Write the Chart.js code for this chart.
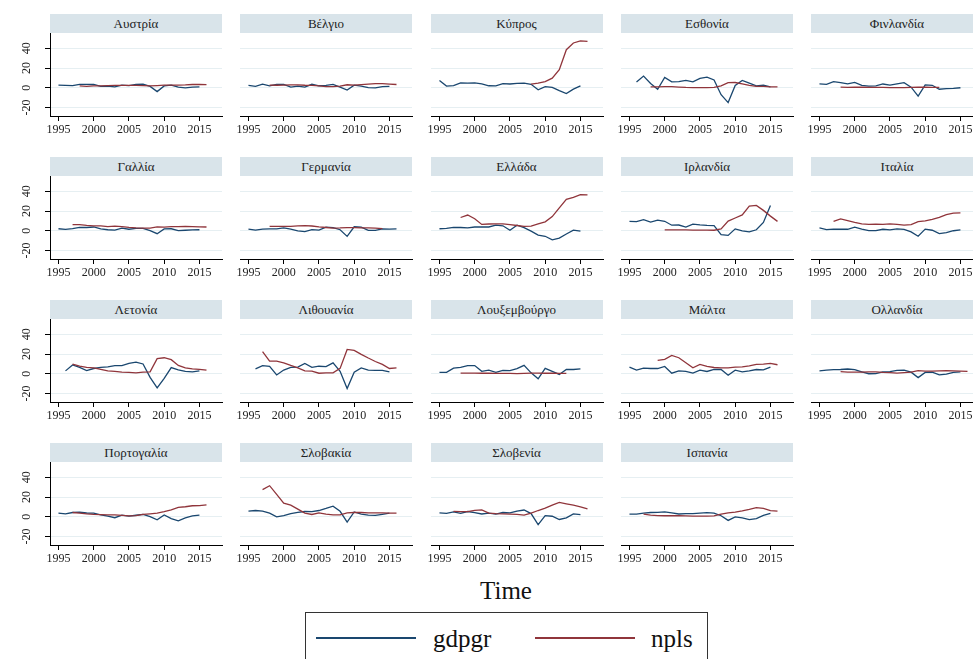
<!DOCTYPE html>
<html>
<head>
<meta charset="utf-8">
<script src="https://cdn.jsdelivr.net/npm/chart.js@4.4.0/dist/chart.umd.min.js"></script>
<style>
    body { margin: 0; width: 973px; height: 659px; overflow: hidden; background: #fff; position: relative; font-family: "Liberation Serif", "Times New Roman", serif; }
    .strip { position: absolute; height: 19px; background: #d9e4ea; text-align: center; font-size: 13px; line-height: 19px; color: #222; font-weight: normal; }
    .panel { position: absolute; }
    #xtitle { position: absolute; left: 0; width: 1012px; top: 578px; text-align: center; font-size: 25px; line-height: 25px; color: #111; }
    #legend { position: absolute; left: 305px; top: 612px; width: 403px; height: 60px; border: 1px solid #333; box-sizing: border-box; }
    .key { position: absolute; top: 24px; height: 2px; width: 100px; }
    .keytext { position: absolute; top: 13px; font-size: 25px; line-height: 25px; color: #111; }
</style>
</head>
<body>
<div id="xtitle">Time</div>
<div id="legend">
    <div class="key" style="left:10px;background:#1a476f"></div>
    <div class="keytext" style="left:127px">gdpgr</div>
    <div class="key" style="left:229px;background:#90353b"></div>
    <div class="keytext" style="left:345px">npls</div>
</div>
<script>
// years shared by every panel
const years = [1995, 1996, 1997, 1998, 1999, 2000, 2001, 2002, 2003, 2004, 2005,
    2006, 2007, 2008, 2009, 2010, 2011, 2012, 2013, 2014, 2015, 2016];

const countries = ['Αυστρία', 'Βέλγιο', 'Κύπρος', 'Εσθονία', 'Φινλανδία',
    'Γαλλία', 'Γερμανία', 'Ελλάδα', 'Ιρλανδία', 'Ιταλία',
    'Λετονία', 'Λιθουανία', 'Λουξεμβούργο', 'Μάλτα', 'Ολλανδία',
    'Πορτογαλία', 'Σλοβακία', 'Σλοβενία', 'Ισπανία'];

const xTicks = [1995, 2000, 2005, 2010, 2015];
const yTicks = [-20, 0, 20, 40];

// GDP growth, one row per country
const gdpgr = [
    [2.7, 2.4, 2.2, 3.6, 3.6, 3.4, 1.4, 1.7, 0.9, 2.7, 2.2, 3.5, 3.7, 1.5, -3.8, 1.9, 2.8, 0.7, 0.0, 0.7, 1.0, null],
    [2.4, 1.5, 3.7, 2.0, 3.5, 3.6, 0.8, 1.8, 0.8, 3.6, 2.1, 2.5, 3.4, 0.8, -2.3, 2.7, 1.8, 0.2, 0.0, 1.3, 1.4, null],
    [7.5, 1.8, 2.3, 5.0, 4.8, 5.0, 4.0, 2.1, 1.9, 4.2, 3.9, 4.5, 4.8, 3.6, -2.0, 1.3, 0.4, -2.9, -5.8, -1.3, 2.0, null],
    [null, 5.8, 11.9, 4.4, -1.4, 10.5, 6.1, 6.3, 7.5, 6.0, 9.5, 10.8, 8.0, -7.0, -14.9, 2.4, 7.5, 4.7, 2.0, 2.7, 1.0, null],
    [4.0, 3.6, 6.2, 5.3, 4.1, 5.6, 2.6, 1.7, 2.0, 3.9, 2.8, 4.1, 5.2, 0.7, -8.3, 3.0, 2.6, -1.4, -0.8, -0.6, 0.1, null],
    [2.1, 1.4, 2.3, 3.6, 3.4, 3.9, 2.0, 1.1, 0.8, 2.8, 1.6, 2.4, 2.4, 0.2, -2.9, 2.0, 2.1, 0.2, 0.6, 0.9, 1.1, null],
    [1.7, 0.8, 1.8, 2.0, 2.0, 3.0, 1.7, 0.0, -0.7, 1.2, 0.7, 3.7, 3.3, 1.1, -5.6, 4.1, 3.7, 0.5, 0.5, 1.9, 1.7, 1.9],
    [2.1, 2.4, 3.6, 3.4, 3.1, 3.9, 4.1, 3.9, 5.8, 5.1, 0.6, 5.7, 3.3, -0.3, -4.3, -5.5, -9.1, -7.3, -3.2, 0.7, -0.3, null],
    [9.6, 9.3, 11.4, 8.9, 10.9, 9.7, 5.7, 5.9, 3.8, 6.8, 6.0, 5.5, 5.2, -3.9, -4.6, 2.0, 0.0, -1.1, 1.1, 8.5, 25.6, null],
    [2.9, 1.3, 1.8, 1.6, 1.6, 3.7, 1.8, 0.2, 0.2, 1.6, 0.9, 2.0, 1.5, -1.0, -5.5, 1.7, 0.6, -2.8, -1.7, 0.1, 0.9, null],
    [null, 3.0, 9.0, 6.5, 3.3, 5.4, 6.5, 7.1, 8.4, 8.3, 10.7, 11.9, 10.0, -3.6, -14.3, -4.5, 6.3, 4.1, 2.4, 1.9, 3.0, null],
    [null, 5.1, 8.3, 7.5, -1.1, 3.8, 6.5, 6.8, 10.5, 6.6, 7.7, 7.4, 11.1, 2.6, -14.8, 1.6, 6.0, 3.8, 3.5, 3.5, 2.0, null],
    [1.4, 1.5, 5.8, 6.5, 8.4, 8.4, 2.5, 3.8, 1.6, 3.6, 3.2, 5.2, 8.6, 1.0, -5.0, 5.5, 2.5, -0.6, 4.4, 4.4, 5.0, null],
    [6.8, 3.7, 5.8, 5.4, 5.4, 7.5, 0.7, 3.0, 2.4, 0.7, 3.7, 2.4, 4.4, 4.4, -1.4, 3.7, 2.0, 2.9, 4.4, 4.0, 6.8, null],
    [3.1, 3.7, 4.3, 4.4, 4.9, 4.2, 2.1, 0.1, 0.3, 2.0, 2.2, 3.5, 3.7, 1.7, -3.8, 1.4, 1.7, -1.1, -0.2, 1.4, 2.0, null],
    [3.7, 3.0, 4.4, 4.8, 3.9, 3.8, 1.9, 0.8, -0.9, 1.8, 0.8, 1.6, 2.5, 0.2, -3.0, 1.9, -1.8, -4.0, -1.1, 0.9, 1.8, null],
    [5.8, 6.4, 5.8, 3.7, 0.0, 1.2, 3.3, 4.5, 5.4, 5.3, 6.4, 8.5, 10.8, 5.6, -5.4, 5.0, 2.8, 1.7, 1.5, 2.6, 3.8, null],
    [4.1, 3.6, 5.0, 3.6, 5.4, 4.2, 2.9, 3.8, 2.8, 4.4, 4.0, 5.7, 6.9, 3.3, -7.8, 1.2, 0.6, -2.7, -1.1, 3.0, 2.3, null],
    [2.8, 2.7, 3.7, 4.4, 4.5, 5.1, 4.0, 2.9, 3.2, 3.2, 3.7, 4.2, 3.8, 1.1, -3.6, 0.0, -1.0, -2.9, -1.7, 1.4, 3.4, null]
];

// non performing loans, one row per country
const npls = [
    [null, null, null, 2.0, 1.5, 2.0, 2.0, 2.3, 2.5, 2.5, 2.5, 2.5, 2.2, 1.9, 2.3, 2.8, 2.7, 2.8, 2.9, 3.4, 3.4, 3.3],
    [null, null, null, 2.8, 2.6, 2.8, 2.9, 3.0, 2.6, 2.4, 2.0, 1.3, 1.2, 1.7, 3.1, 2.8, 3.3, 3.7, 4.2, 4.2, 3.8, 3.4],
    [null, null, null, null, null, null, null, null, null, null, null, null, null, 3.7, 4.7, 6.4, 9.8, 18.3, 38.6, 45.4, 47.5, 47.0],
    [null, null, null, 1.0, 0.9, 1.2, 1.3, 0.8, 0.4, 0.3, 0.2, 0.2, 0.5, 1.9, 5.2, 5.4, 4.0, 2.6, 1.5, 1.4, 1.0, 0.9],
    [null, null, null, 0.7, 0.5, 0.6, 0.6, 0.5, 0.4, 0.4, 0.3, 0.3, 0.3, 0.4, 0.6, 0.6, 0.5, 0.5, null, null, null, null],
    [null, null, 6.3, 6.2, 5.5, 5.0, 5.0, 4.2, 4.8, 4.2, 3.5, 3.0, 2.7, 2.8, 4.0, 3.8, 4.3, 4.3, 4.5, 4.2, 4.0, 3.9],
    [null, null, null, 4.5, 4.5, 4.6, 4.6, 5.0, 5.2, 4.9, 4.0, 3.4, 2.7, 2.9, 3.3, 3.2, 3.0, 2.9, 2.7, 2.3, null, null],
    [null, null, null, 13.5, 16.0, 12.3, 6.5, 6.9, 7.0, 7.0, 6.3, 5.4, 4.6, 4.7, 7.0, 9.1, 14.4, 23.3, 31.9, 33.8, 36.6, 36.3],
    [null, null, null, null, null, 1.0, 1.0, 1.0, 0.9, 0.8, 0.7, 0.7, 0.6, 1.9, 9.8, 13.0, 16.1, 25.0, 25.7, 20.7, 14.9, 9.6],
    [null, null, 9.5, 12.0, 10.4, 8.5, 7.0, 6.5, 6.7, 6.6, 7.0, 6.6, 5.8, 6.3, 9.4, 10.0, 11.7, 13.7, 16.5, 18.0, 18.1, null],
    [null, null, 9.8, 7.8, 6.5, 6.1, 4.5, 3.0, 2.5, 1.8, 1.4, 1.0, 1.8, 2.0, 15.3, 16.3, 14.3, 8.5, 6.0, 5.0, 4.6, 3.7],
    [null, null, 22.4, 12.9, 12.9, 11.2, 8.5, 6.1, 3.0, 2.7, 0.6, 1.0, 1.0, 5.5, 24.7, 23.7, 19.7, 16.0, 12.5, 9.5, 5.4, 6.1],
    [null, null, null, 0.8, 0.8, 0.7, 0.6, 0.6, 0.5, 0.5, 0.4, 0.3, 0.5, 0.7, 0.8, 0.6, 0.6, 0.4, 0.4, null, null, null],
    [null, null, null, null, 13.6, 14.6, 18.6, 16.3, 11.2, 6.1, 9.5, 7.5, 6.4, 6.1, 6.1, 6.8, 7.1, 8.1, 9.5, 9.8, 10.5, 9.2],
    [null, null, null, 2.2, 1.8, 1.7, 1.8, 1.9, 2.0, 1.5, 1.2, 0.8, 1.2, 1.7, 3.2, 2.8, 2.7, 3.1, 3.2, 3.0, 2.7, 2.5],
    [null, null, 4.4, 3.8, 3.0, 2.4, 2.2, 2.0, 2.0, 1.5, 1.0, 1.3, 2.4, 3.0, 3.7, 5.2, 7.1, 9.5, 10.2, 11.2, 11.3, 12.2],
    [null, null, 27.5, 31.5, 22.7, 13.9, 11.9, 7.8, 3.7, 2.4, 4.0, 2.7, 2.0, 2.0, 4.1, 4.4, 4.4, 4.0, 4.0, 4.0, 3.7, 3.7],
    [null, null, 5.5, 5.3, 5.2, 6.5, 7.0, 3.7, 3.2, 3.0, 2.7, 2.5, 1.8, 3.7, 6.4, 8.8, 11.9, 14.6, 13.2, 11.9, 10.2, 8.1],
    [null, null, 2.7, 1.8, 1.3, 1.1, 1.1, 1.1, 0.9, 0.8, 0.8, 0.7, 0.9, 2.8, 4.1, 4.7, 6.0, 7.5, 9.4, 8.5, 6.2, 5.8]
];

// panel grid (pixels)
const colX = [50, 240, 430.5, 621, 811];
const rowY = [14, 157, 300, 443];
const stripH = 19;
const plotW = 172;
const plotH = 83;
const axisW = 50;

const tickFont = { family: '"Liberation Serif", "Times New Roman", serif', size: 12 };

// rotated y labels like Stata draws them
const yLabelPlugin = {
    id: 'yLabels',
    afterDraw(chart, args, opts) {
        if (!opts.show) return;
        const ctx = chart.ctx;
        const y = chart.scales.y;
        ctx.save();
        ctx.fillStyle = '#222';
        ctx.font = '12px "Liberation Serif", "Times New Roman", serif';
        ctx.textAlign = 'center';
        ctx.textBaseline = 'middle';
        yTicks.forEach(v => {
            ctx.save();
            ctx.translate(chart.chartArea.left - 23, y.getPixelForValue(v));
            ctx.rotate(-Math.PI / 2);
            ctx.fillText(String(v), 0, 0);
            ctx.restore();
        });
        ctx.restore();
    }
};

function makePanel(i) {
    const col = i % 5;
    const row = Math.floor(i / 5);
    const left = colX[col];
    const top = rowY[row];

    const strip = document.createElement('div');
    strip.className = 'strip';
    strip.style.left = left + 'px';
    strip.style.top = top + 'px';
    strip.style.width = plotW + 'px';
    strip.textContent = countries[i];
    document.body.appendChild(strip);

    const wrap = document.createElement('div');
    wrap.className = 'panel';
    wrap.style.left = (left - axisW) + 'px';
    wrap.style.top = (top + stripH) + 'px';
    const canvas = document.createElement('canvas');
    canvas.width = axisW + plotW + 20;
    canvas.height = plotH + 26;
    wrap.appendChild(canvas);
    document.body.appendChild(wrap);

    new Chart(canvas, {
        type: 'line',
        data: {
            datasets: [
                {
                    label: 'gdpgr',
                    data: years.map((yr, k) => ({ x: yr, y: gdpgr[i][k] })),
                    borderColor: '#1a476f',
                    borderWidth: 1.3,
                    pointRadius: 0,
                    tension: 0,
                    order: 1
                },
                {
                    label: 'npls',
                    data: years.map((yr, k) => ({ x: yr, y: npls[i][k] })),
                    borderColor: '#90353b',
                    borderWidth: 1.3,
                    pointRadius: 0,
                    tension: 0,
                    order: 0
                }
            ]
        },
        options: {
            responsive: false,
            animation: false,
            events: [],
            layout: { padding: { left: 0, right: 20, top: 0, bottom: 0 } },
            plugins: {
                legend: { display: false },
                tooltip: { enabled: false },
                yLabels: { show: col === 0 }
            },
            scales: {
                x: {
                    type: 'linear',
                    min: 1993.8,
                    max: 2018.2,
                    afterBuildTicks: s => { s.ticks = xTicks.map(v => ({ value: v })); },
                    afterFit: s => { s.height = 26; },
                    grid: { drawOnChartArea: false, drawTicks: true, tickLength: 5, tickColor: '#000', tickWidth: 1 },
                    border: { display: true, color: '#000', width: 1 },
                    ticks: { font: tickFont, color: '#222', padding: 2, maxRotation: 0, autoSkip: false, callback: v => String(v) }
                },
                y: {
                    type: 'linear',
                    min: -28.5,
                    max: 55.5,
                    afterBuildTicks: s => { s.ticks = yTicks.map(v => ({ value: v })); },
                    afterFit: s => { s.width = axisW; },
                    grid: { color: '#e6eff2', lineWidth: 1, drawTicks: col === 0, tickLength: 5, tickColor: '#000' },
                    border: { display: col === 0, color: '#000', width: 1 },
                    ticks: { display: false }
                }
            }
        },
        plugins: [yLabelPlugin]
    });
}

countries.forEach((c, i) => makePanel(i));
</script>
</body>
</html>
